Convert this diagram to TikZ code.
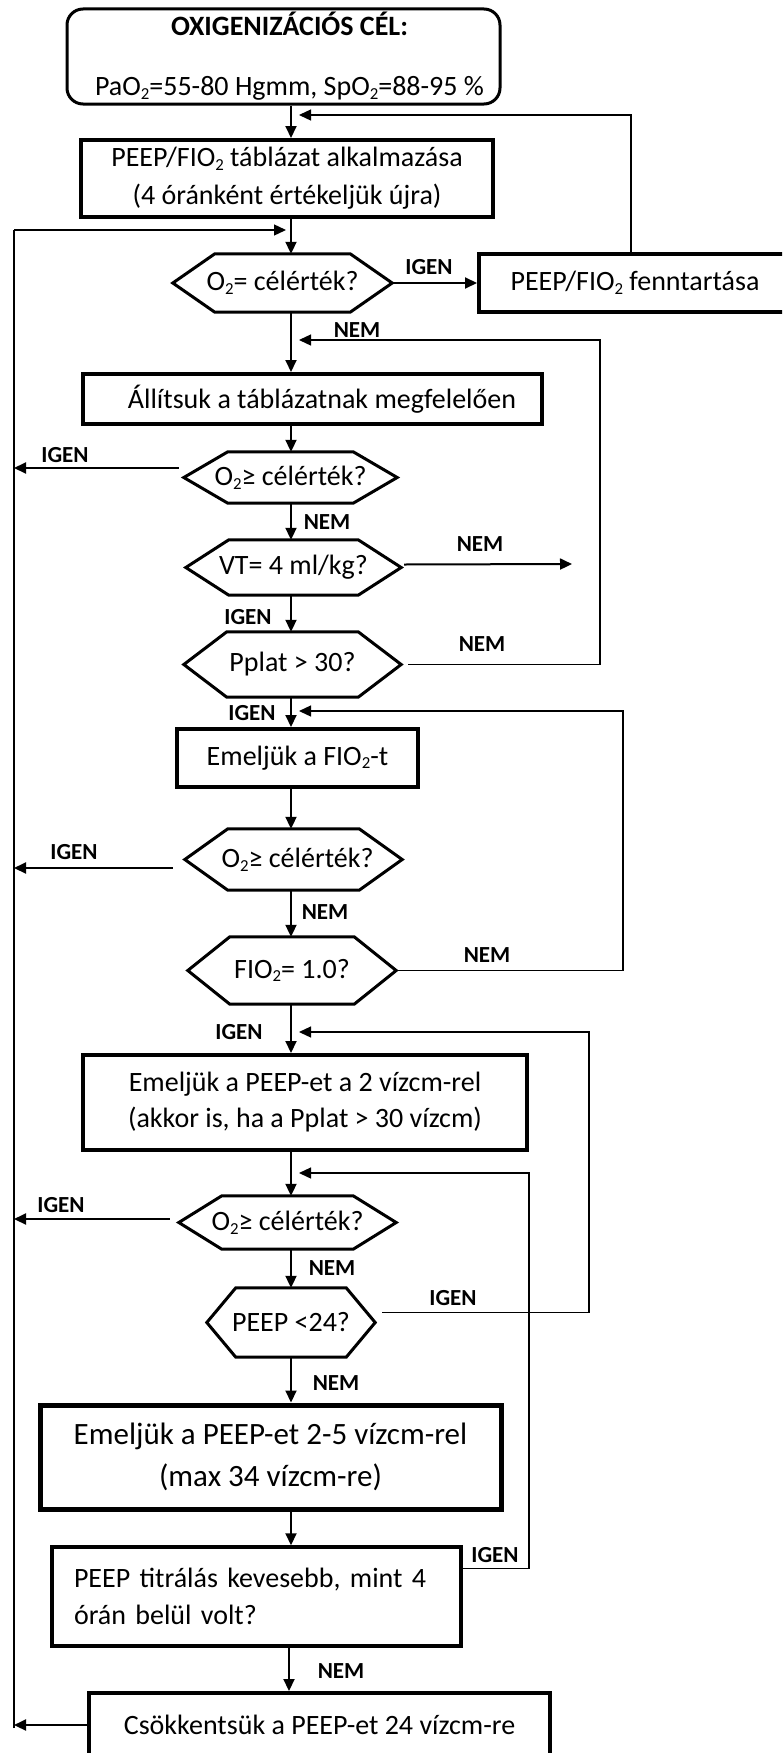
\documentclass[tikz,border=0pt]{standalone}
\usepackage{fontspec}
\usepackage{graphicx}
\setmainfont{Carlito}
\usetikzlibrary{arrows.meta,calc}

% small, slightly lowered subscript digit
\newcommand\sub[1]{\raisebox{-0.13em}{\scalebox{0.6}{#1}}}

% hexagonal decision frame drawn around a (frameless) node; #2 = horizontal inset
\newcommand\hexframe[2]{%
  \draw[line width=3pt,line join=miter]
    (#1.west) -- ($(#1.north west)+(#2,0)$) -- ($(#1.north east)+(-#2,0)$)
    -- (#1.east) -- ($(#1.south east)+(-#2,0)$) -- ($(#1.south west)+(#2,0)$) -- cycle;}

\begin{document}
\begin{tikzpicture}[x=1pt,y=-1pt,
  txt/.style={font=\fontsize{28}{34}\selectfont},
  box/.style={draw,rectangle,line width=4pt,inner sep=0pt,align=center,txt},
  hexa/.style={rectangle,inner sep=0pt,txt},
  tip/.style={-{Triangle[length=12pt,width=11pt]}},
  flow/.style={line width=2pt,tip},
  back/.style={line width=1.3pt},
  backarr/.style={line width=1.3pt,tip,shorten >=8pt},
  lbl/.style={font=\bfseries\fontsize{23}{23}\selectfont,inner sep=0pt},
]
\useasboundingbox (0,0) rectangle (782,1753);
\clip (0,0) rectangle (782,1753);
\fill[white] (0,0) rectangle (782,1753);

% guide coordinates for the spine, the return line and the loop-back columns
\coordinate (spine) at (291,0);
\coordinate (lline) at (14,0);
\coordinate (ltop) at (14,230);
\coordinate (lbot) at (14,1728);
\coordinate (j1) at (291,115);
\coordinate (j2) at (291,230);
\coordinate (j3) at (291,340);
\coordinate (j4) at (291,711);
\coordinate (j5) at (291,1032);
\coordinate (j6) at (291,1173);
\coordinate (r1) at (600,0);
\coordinate (r2) at (623,0);
\coordinate (r3) at (589,0);
\coordinate (r4) at (529,0);
\coordinate (vtend) at (572,564);

% goal
\node[draw,rounded corners=16pt,line width=3pt,inner sep=0pt,align=center,
      font=\fontsize{28}{30}\selectfont,minimum width=433pt,minimum height=95pt]
  (goal) at (283.5,56.5)
  {\hspace*{12pt}\textbf{OXIGENIZÁCIÓS CÉL:}\\[30pt]\hspace*{12pt}PaO\sub{2}=55-80 Hgmm, SpO\sub{2}=88-95 \%};

% process boxes
\node[box,font=\fontsize{28}{38}\selectfont,minimum width=412pt,minimum height=77pt]
  (tab) at (287,178.5) {PEEP/FIO\sub{2} táblázat alkalmazása\\(4 óránként értékeljük újra)};
\node[box,minimum width=312pt,minimum height=58pt]
  (fenn) at (635,283) {PEEP/FIO\sub{2} fenntartása};
\node[box,minimum width=459pt,minimum height=50pt]
  (allit) at (312.5,399) {\hspace*{19pt}Állítsuk a táblázatnak megfelelően};
\node[box,minimum width=241pt,minimum height=58pt]
  (fio) at (297.5,758) {Emeljük a FIO\sub{2}-t};
\node[box,font=\fontsize{28}{36}\selectfont,minimum width=444pt,minimum height=95pt]
  (peep2) at (305,1102.5) {Emeljük a PEEP-et a 2 vízcm-rel\\(akkor is, ha a Pplat > 30 vízcm)};
\node[box,line width=5pt,font=\fontsize{31}{42}\selectfont,minimum width=461pt,minimum height=104pt]
  (peep25) at (270.5,1457) {Emeljük a PEEP-et 2-5 vízcm-rel\\(max 34 vízcm-re)};
\node[box,line width=3.5pt,align=left,inner xsep=22pt,text width=365pt,
      font=\fontsize{28}{37}\selectfont,minimum height=99pt]
  (titr) at (256.5,1596.5) {PEEP titrálás kevesebb, mint 4\\órán belül volt?};
\node[box,minimum width=461pt,minimum height=64pt]
  (csokk) at (319.5,1725) {Csökkentsük a PEEP-et 24 vízcm-re};

% decisions
\node[hexa,minimum width=219pt,minimum height=58pt] (q1) at (282.5,283) {O\sub{2}= célérték?};
\node[hexa,minimum width=213pt,minimum height=51pt] (q2) at (290.5,477.5) {O\sub{2}≥ célérték?};
\node[hexa,minimum width=215pt,minimum height=55pt] (vt) at (293.5,567.5) {VT= 4 ml/kg?};
\node[hexa,minimum width=217pt,minimum height=65pt] (pplat) at (292.5,664.5) {Pplat > 30?};
\node[hexa,minimum width=217pt,minimum height=61pt] (q3) at (293.5,859.5) {\hspace*{8pt}O\sub{2}≥ célérték?};
\node[hexa,minimum width=208pt,minimum height=67pt] (fio1) at (292,970.5) {FIO\sub{2}= 1.0?};
\node[hexa,minimum width=217pt,minimum height=53pt] (q4) at (287.5,1222.5) {O\sub{2}≥ célérték?};
\node[hexa,minimum width=168pt,minimum height=69pt] (peep24) at (291,1322.5) {PEEP <24?};
\hexframe{q1}{42}
\hexframe{q2}{44}
\hexframe{vt}{43}
\hexframe{pplat}{43}
\hexframe{q3}{43}
\hexframe{fio1}{42}
\hexframe{q4}{43}
\hexframe{peep24}{29}

% main downward flow
\draw[flow] (goal.south -| spine) -- (tab.north -| spine);
\draw[flow] (tab.south -| spine) -- (q1.north -| spine);
\draw[flow] (q1.south -| spine) -- (allit.north -| spine);
\draw[flow] (allit.south -| spine) -- (q2.north -| spine);
\draw[flow] (q2.south -| spine) -- (vt.north -| spine);
\draw[flow] (vt.south -| spine) -- (pplat.north -| spine);
\draw[flow] (pplat.south -| spine) -- (fio.north -| spine);
\draw[flow] (fio.south -| spine) -- (q3.north -| spine);
\draw[flow] (q3.south -| spine) -- (fio1.north -| spine);
\draw[flow] (fio1.south -| spine) -- (peep2.north -| spine);
\draw[flow] (peep2.south -| spine) -- (q4.north -| spine);
\draw[flow] (q4.south -| spine) -- (peep24.north -| spine);
\draw[flow] (peep24.south -| spine) -- (peep25.north -| spine);
\draw[flow] (peep25.south -| spine) -- (titr.north -| spine);
\draw[flow] ([xshift=-2pt]titr.south -| spine) -- ([xshift=-2pt]csokk.north -| spine);

% side branches
\draw[flow] (q1.east) -- (fenn.west);
\draw[flow] ([shift={(3pt,3pt)}]vt.east) -- (vtend);
\draw[backarr] ([xshift=-4pt]fenn.north) |- (j1);

% loop-backs on the right
\draw[backarr] ([xshift=7pt]pplat.east) -- (pplat.east -| r1) |- (j3);
\draw[backarr] (fio1.east) -- (fio1.east -| r2) |- (j4);
\draw[backarr] ([shift={(7pt,10pt)}]peep24.east) -- ([yshift=10pt]peep24.east -| r3) |- (j5);
\draw[backarr] ($(titr.north east)+(0,23)$) -- ($(titr.north east -| r4)+(0,23)$) |- (j6);

% return line on the left
\draw[flow] ([shift={(-5pt,9.5pt)}]q2.west) -- ([yshift=9.5pt]q2.west -| lline);
\draw[flow] ([shift={(-12pt,-8.5pt)}]q3.west) -- ([yshift=-8.5pt]q3.west -| lline);
\draw[flow] ([shift={(-9pt,3.5pt)}]q4.west) -- ([yshift=3.5pt]q4.west -| lline);
\draw[flow] (csokk.west) -- (csokk.west -| lline);
\draw[back] (lbot) -- (ltop);
\draw[back,tip,shorten >=5pt] (ltop) -- (j2);

% branch labels
\node[lbl] (l1) at (429,267) {IGEN};
\node[lbl] (l2) at (357,330) {NEM};
\node[lbl] (l3) at (65,455) {IGEN};
\node[lbl] (l4) at (327,522) {NEM};
\node[lbl] (l5) at (480,544) {NEM};
\node[lbl] (l6) at (248,617) {IGEN};
\node[lbl] (l7) at (482,644) {NEM};
\node[lbl] (l8) at (252,713) {IGEN};
\node[lbl] (l9) at (74,852) {IGEN};
\node[lbl] (l10) at (325,912) {NEM};
\node[lbl] (l11) at (487,955) {NEM};
\node[lbl] (l12) at (239,1032) {IGEN};
\node[lbl] (l13) at (61,1205) {IGEN};
\node[lbl] (l14) at (332,1268) {NEM};
\node[lbl] (l15) at (453,1298) {IGEN};
\node[lbl] (l16) at (336,1383) {NEM};
\node[lbl] (l17) at (495,1555) {IGEN};
\node[lbl] (l18) at (341,1671) {NEM};
\end{tikzpicture}
\end{document}
